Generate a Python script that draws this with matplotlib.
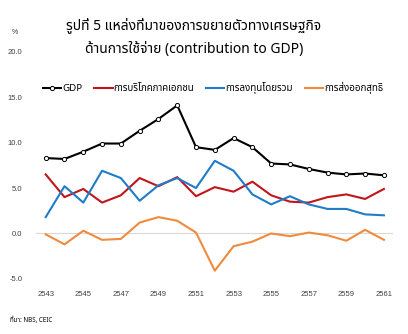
import matplotlib
matplotlib.use("Agg")
import matplotlib.pyplot as plt

plt.rcParams["font.family"] = ["Noto Sans Thai", "Noto Sans", "DejaVu Sans"]

years = list(range(2543, 2562))
tick_years = list(range(2543, 2562, 2))

gdp = [8.3, 8.2, 9.0, 9.9, 9.9, 11.3, 12.6, 14.1, 9.5, 9.2,
       10.5, 9.5, 7.7, 7.6, 7.1, 6.7, 6.5, 6.6, 6.4]
consumption = [6.5, 4.0, 4.9, 3.4, 4.2, 6.1, 5.2, 6.2, 4.1, 5.1,
               4.6, 5.7, 4.2, 3.5, 3.4, 4.0, 4.3, 3.8, 4.9]
investment = [1.8, 5.2, 3.4, 6.9, 6.1, 3.6, 5.3, 6.1, 5.0, 8.0,
              6.9, 4.3, 3.2, 4.1, 3.2, 2.7, 2.7, 2.1, 2.0]
net_exports = [-0.1, -1.2, 0.3, -0.7, -0.6, 1.2, 1.8, 1.4, 0.1, -4.1,
               -1.4, -0.9, 0.0, -0.3, 0.1, -0.2, -0.8, 0.4, -0.7]

labels = ["GDP", "การบริโภคภาคเอกชน", "การลงทุนโดยรวม", "การส่งออกสุทธิ"]

fig = plt.figure(figsize=(4.08, 3.34), dpi=100)
ax = fig.add_axes([0.089, 0.165, 0.875, 0.68])

ax.axhline(0, color="#d9d9d9", lw=0.8, zorder=0)
ax.plot(years, gdp, color="black", lw=1.5, marker="o", ms=3,
        mfc="white", mec="black", mew=0.7, label=labels[0])
ax.plot(years, consumption, color="#c0151b", lw=1.5, label=labels[1])
ax.plot(years, investment, color="#1f7cc8", lw=1.5, label=labels[2])
ax.plot(years, net_exports, color="#f08a3c", lw=1.5, label=labels[3])

ax.set_xlim(2542.5, 2561.5)
ax.set_ylim(-5, 20)
ax.set_yticks([-5, 0, 5, 10, 15, 20])
ax.set_yticklabels(["-5.0", "0.0", "5.0", "10.0", "15.0", "20.0"])
ax.set_xticks(tick_years)
ax.set_xticklabels([str(y) for y in tick_years])
for lab in ax.get_xticklabels() + ax.get_yticklabels():
    lab.set_fontfamily("Liberation Sans")
    lab.set_fontsize(5.5)
    lab.set_color("#404040")
ax.tick_params(axis="y", length=0, pad=10)
ax.tick_params(axis="x", length=0, pad=9)
for s in ax.spines.values():
    s.set_visible(False)

fig.legend(loc="center", bbox_to_anchor=(213 / 408, 1 - 88 / 334),
           ncol=4, frameon=False, fontsize=7, handlelength=1.9,
           handletextpad=0.1, columnspacing=1.2)

fig.text(194 / 408, 1 - 25 / 334, "รูปที่ 5 แหล่งที่มาของการขยายตัวทางเศรษฐกิจ",
         ha="center", va="center", fontsize=10)
fig.text(194 / 408, 1 - 50 / 334, "ด้านการใช้จ่าย (contribution to GDP)",
         ha="center", va="center", fontsize=10)
fig.text(15 / 408, 1 - 32 / 334, "%", ha="center", va="center",
         fontsize=5, family="Liberation Sans", color="#404040")
fig.text(10 / 408, 1 - 320 / 334, "ที่มา: NBS, CEIC", ha="left", va="center",
         fontsize=4.5, fontweight="bold")

fig.savefig("out.png", dpi=100)
